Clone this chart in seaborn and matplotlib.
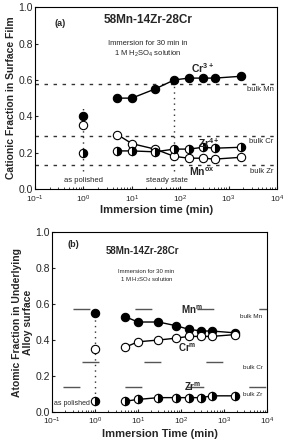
import numpy as np
import pandas as pd
import seaborn as sns
import matplotlib.pyplot as plt

# Immersion times (min) and fractions
tiempo = [5, 10, 30, 75, 150, 300, 520, 1800]

# (a) surface film
cr3 = [0.50, 0.50, 0.55, 0.60, 0.61, 0.61, 0.61, 0.62]
mn_ox = [0.30, 0.25, 0.22, 0.18, 0.17, 0.17, 0.165, 0.175]
zr4 = [0.21, 0.21, 0.205, 0.22, 0.22, 0.23, 0.225, 0.23]
pulido_a = {'Cr': 0.40, 'Mn': 0.35, 'Zr': 0.20}
bulk_a = {'Mn': 0.58, 'Cr': 0.29, 'Zr': 0.13}

# (b) underlying alloy
mn_m = [0.53, 0.50, 0.50, 0.48, 0.46, 0.45, 0.45, 0.44]
cr_m = [0.36, 0.39, 0.40, 0.41, 0.42, 0.42, 0.42, 0.43]
zr_m = [0.06, 0.07, 0.08, 0.08, 0.08, 0.08, 0.09, 0.09]
pulido_b = {'Mn': 0.55, 'Cr': 0.35, 'Zr': 0.06}
bulk_b = {'Mn': 0.57, 'Cr': 0.28, 'Zr': 0.14}

sns.set_style('ticks')
plt.rcParams['font.family'] = ['Liberation Sans', 'DejaVu Sans']
plt.rcParams['mathtext.default'] = 'regular'
plt.rcParams['xtick.direction'] = 'in'
plt.rcParams['ytick.direction'] = 'in'

fig = plt.figure(figsize=(2.83, 4.44), dpi=100)
ax1 = fig.add_axes([0.124, 0.574, 0.855, 0.41])
ax2 = fig.add_axes([0.184, 0.072, 0.759, 0.4055])

colores = {'lleno': 'black', 'vacio': 'white'}


def dibujar(ax, x, y, estilo):
    if estilo == 'medio':
        # mitad derecha negra, mitad izquierda blanca
        ax.plot(x, y, color='black', lw=1, marker='o', markersize=6,
                markeredgecolor='black', markeredgewidth=0.8,
                markerfacecolor='black', fillstyle='right',
                markerfacecoloralt='white', zorder=3)
        return
    df = pd.DataFrame({'t': x, 'f': y})
    sns.lineplot(data=df, x='t', y='f', ax=ax, color='black', lw=1, marker='o',
                 markersize=6, markeredgecolor='black', markeredgewidth=0.8,
                 markerfacecolor=colores[estilo], zorder=3)


# ---- panel (a) ----
for k, v in bulk_a.items():
    ax1.axhline(v, color='#333333', lw=1, linestyle=(0, (2.5, 4)), zorder=1)
ax1.plot([1, 1], [0.10, 0.45], color='#333333', lw=1, linestyle=(0, (1, 3)), zorder=1)
ax1.plot([75, 75], [0.10, 0.60], color='#333333', lw=1, linestyle=(0, (1, 3)), zorder=1)

dibujar(ax1, tiempo, cr3, 'lleno')
dibujar(ax1, tiempo, mn_ox, 'vacio')
dibujar(ax1, tiempo, zr4, 'medio')
dibujar(ax1, [1], [pulido_a['Cr']], 'lleno')
dibujar(ax1, [1], [pulido_a['Mn']], 'vacio')
dibujar(ax1, [1], [pulido_a['Zr']], 'medio')

t = ax1.transAxes
chico = 5.5
ax1.text(0.08, 0.91, '(a)', transform=t, fontsize=6.5, fontweight='bold', va='center')
ax1.text(0.467, 0.93, '58Mn-14Zr-28Cr', transform=t, fontsize=8.5, fontweight='bold', ha='center', va='center')
ax1.text(0.467, 0.80, 'Immersion for 30 min in', transform=t, fontsize=chico, ha='center', va='center')
ax1.text(0.467, 0.745, '1 M H$_2$SO$_4$ solution', transform=t, fontsize=chico, ha='center', va='center')
ax1.text(0.985, 0.55, 'bulk Mn', transform=t, fontsize=chico, ha='right', va='center')
ax1.text(0.985, 0.26, 'bulk Cr', transform=t, fontsize=chico, ha='right', va='center')
ax1.text(0.985, 0.095, 'bulk Zr', transform=t, fontsize=chico, ha='right', va='center')
ax1.text(0.20, 0.05, 'as polished', transform=t, fontsize=chico, ha='center', va='center')
ax1.text(0.545, 0.05, 'steady state', transform=t, fontsize=chico, ha='center', va='center')
ax1.text(0.69, 0.665, 'Cr$^{3+}$', transform=t, fontsize=7.5, fontweight='bold', ha='center', va='center')
ax1.text(0.72, 0.255, 'Zr$^{4+}$', transform=t, fontsize=7.5, fontweight='bold', ha='center', va='center')
ax1.text(0.69, 0.095, 'Mn$^{ox}$', transform=t, fontsize=7.5, fontweight='bold', ha='center', va='center')

ax1.set_xlabel('Immersion time (min)', fontsize=8, fontweight='bold', labelpad=0)
ax1.set_ylabel('Cationic Fraction in Surface Film', fontsize=7.5, fontweight='bold', labelpad=1.5)

# ---- panel (b) ----
fases = {'Mn': 29.5, 'Cr': 23, 'Zr': 36.7}
for k, v in bulk_b.items():
    ax2.axhline(v, color='#555555', lw=1, linestyle=(fases[k], (12.2, 32.4)), zorder=1)
ax2.plot([1, 1], [0.07, 0.54], color='#333333', lw=1, linestyle=(0, (1, 3)), zorder=1)

dibujar(ax2, tiempo, mn_m, 'lleno')
dibujar(ax2, tiempo, cr_m, 'vacio')
dibujar(ax2, tiempo, zr_m, 'medio')
dibujar(ax2, [1], [pulido_b['Mn']], 'lleno')
dibujar(ax2, [1], [pulido_b['Cr']], 'vacio')
dibujar(ax2, [1], [pulido_b['Zr']], 'medio')

t = ax2.transAxes
ax2.text(0.07, 0.93, '(b)', transform=t, fontsize=6.5, fontweight='bold', va='center')
ax2.text(0.42, 0.895, '58Mn-14Zr-28Cr', transform=t, fontsize=7, fontweight='bold', ha='center', va='center')
ax2.text(0.44, 0.78, 'Immersion for 30 min', transform=t, fontsize=4.3, ha='center', va='center')
ax2.text(0.44, 0.735, '1 M H$_2$SO$_4$ solution', transform=t, fontsize=4.3, ha='center', va='center')
ax2.text(0.98, 0.53, 'bulk Mn', transform=t, fontsize=4.6, ha='right', va='center')
ax2.text(0.98, 0.25, 'bulk Cr', transform=t, fontsize=4.6, ha='right', va='center')
ax2.text(0.98, 0.10, 'bulk Zr', transform=t, fontsize=4.6, ha='right', va='center')
ax2.text(0.178, 0.05, 'as polished', transform=t, fontsize=5, ha='right', va='center')
ax2.text(0.65, 0.57, 'Mn$^{m}$', transform=t, fontsize=7, fontweight='bold', ha='center', va='center')
ax2.text(0.63, 0.355, 'Cr$^{m}$', transform=t, fontsize=7, fontweight='bold', ha='center', va='center')
ax2.text(0.655, 0.14, 'Zr$^{m}$', transform=t, fontsize=7, fontweight='bold', ha='center', va='center')

ax2.set_xlabel('Immersion Time (min)', fontsize=8, fontweight='bold', labelpad=1)
ax2.set_ylabel('Atomic Fraction in Underlying\nAlloy surface', fontsize=7.5, fontweight='bold', labelpad=1.5)

for ax in (ax1, ax2):
    ax.set_xscale('log')
    ax.set_xlim(0.1, 1e4)
    ax.set_ylim(0, 1.0)
    ax.set_yticks([0, 0.2, 0.4, 0.6, 0.8, 1.0])
    ax.set_yticklabels(['0.0', '0.2', '0.4', '0.6', '0.8', '1.0'])
    ax.tick_params(axis='y', labelsize=7.5, length=2.5, width=0.8, pad=1.5)
    ax.tick_params(axis='x', labelsize=6, length=2.5, width=0.8, pad=3)
    ax.tick_params(which='minor', length=1.5, width=0.6)
    for s in ax.spines.values():
        s.set_visible(True)
        s.set_linewidth(0.8)
        s.set_color('black')

fig.savefig('out.png', dpi=100)
